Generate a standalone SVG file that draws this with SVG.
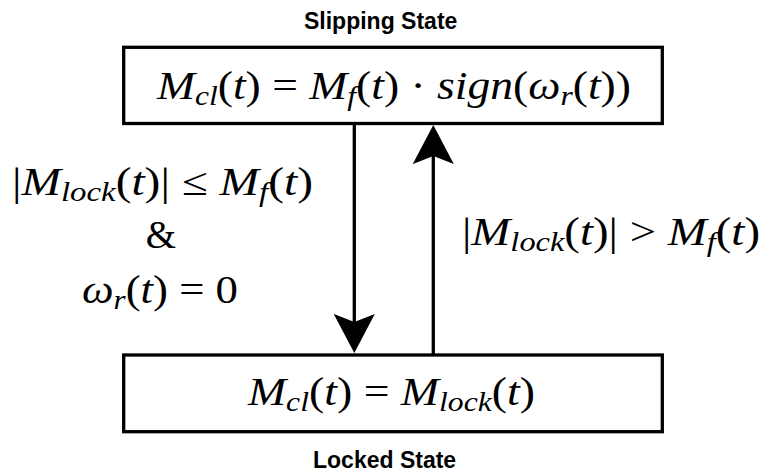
<svg xmlns="http://www.w3.org/2000/svg" width="764" height="475" viewBox="0 0 764 475">
<style>
.box{fill:#fff;stroke:#000;stroke-width:3.3}
.lbl{font-family:"Liberation Sans",Arial,sans-serif;font-weight:bold;font-size:23px;fill:#000}
.m{font-family:"Liberation Serif","Times New Roman",serif;font-size:39px;fill:#000}
.i{font-style:italic}
.s{font-size:27px}
.conn{stroke:#000;stroke-width:3.3;fill:none}
</style>
<defs>
<marker id="arr" viewBox="0 0 39 41" refX="8" refY="20.5" markerWidth="39" markerHeight="41" markerUnits="userSpaceOnUse" orient="auto"><path d="M39,20.5 L0,0 L8,20.5 L0,41 Z" fill="#000"/></marker>
</defs>
<rect width="764" height="475" fill="#fff"/>
<g id="slipping">
<rect class="box" x="123.7" y="47.3" width="538.6" height="76.2"/>
<text class="lbl" x="304" y="29">Slipping State</text>
<text class="m" x="157" y="99" textLength="474" lengthAdjust="spacingAndGlyphs"><tspan class="i">M</tspan><tspan class="i s" dy="6">cl</tspan><tspan dy="-6">(</tspan><tspan class="i">t</tspan><tspan>) = </tspan><tspan class="i">M</tspan><tspan class="i s" dy="6">f</tspan><tspan dy="-6">(</tspan><tspan class="i">t</tspan><tspan>) · </tspan><tspan class="i">sign</tspan><tspan>(</tspan><tspan class="i">ω</tspan><tspan class="i s" dy="6">r</tspan><tspan dy="-6">(</tspan><tspan class="i">t</tspan><tspan>))</tspan></text>
</g>
<g id="locked">
<rect class="box" x="123.7" y="355" width="538.6" height="76.7"/>
<text class="lbl" x="313" y="468">Locked State</text>
<text class="m" x="248" y="405" textLength="287" lengthAdjust="spacingAndGlyphs"><tspan class="i">M</tspan><tspan class="i s" dy="6">cl</tspan><tspan dy="-6">(</tspan><tspan class="i">t</tspan><tspan>) = </tspan><tspan class="i">M</tspan><tspan class="i s" dy="6">lock</tspan><tspan dy="-6">(</tspan><tspan class="i">t</tspan><tspan>)</tspan></text>
</g>
<g id="connectors">
<line class="conn" x1="354.3" y1="123.5" x2="354.3" y2="322" marker-end="url(#arr)"/>
<line class="conn" x1="433.3" y1="355" x2="433.3" y2="156" marker-end="url(#arr)"/>
<text class="m" x="12" y="195" textLength="301" lengthAdjust="spacingAndGlyphs"><tspan>|</tspan><tspan class="i">M</tspan><tspan class="i s" dy="6">lock</tspan><tspan dy="-6">(</tspan><tspan class="i">t</tspan><tspan>)| ≤ </tspan><tspan class="i">M</tspan><tspan class="i s" dy="6">f</tspan><tspan dy="-6">(</tspan><tspan class="i">t</tspan><tspan>)</tspan></text>
<text class="m" x="161" y="248" text-anchor="middle">&amp;</text>
<text class="m" x="82" y="303" textLength="156" lengthAdjust="spacingAndGlyphs"><tspan class="i">ω</tspan><tspan class="i s" dy="6">r</tspan><tspan dy="-6">(</tspan><tspan class="i">t</tspan><tspan>) = 0</tspan></text>
<text class="m" x="462" y="245" textLength="298" lengthAdjust="spacingAndGlyphs"><tspan>|</tspan><tspan class="i">M</tspan><tspan class="i s" dy="6">lock</tspan><tspan dy="-6">(</tspan><tspan class="i">t</tspan><tspan>)| &gt; </tspan><tspan class="i">M</tspan><tspan class="i s" dy="6">f</tspan><tspan dy="-6">(</tspan><tspan class="i">t</tspan><tspan>)</tspan></text>
</g>
</svg>
